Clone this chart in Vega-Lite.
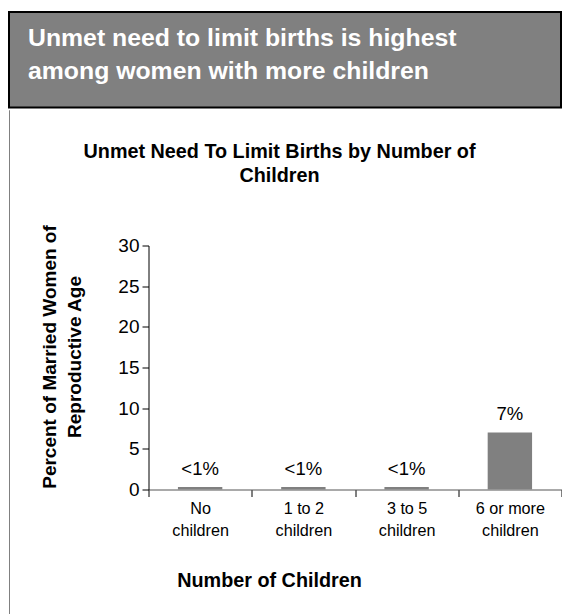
{
  "$schema": "https://vega.github.io/schema/vega-lite/v6.json",
  "background": "white",
  "padding": {"left": 8, "top": 11, "right": 0, "bottom": 0},
  "spacing": 0,
  "vconcat": [
    {
      "width": 552,
      "height": 95.5,
      "view": {"fill": "#808080", "stroke": "#000000", "strokeWidth": 2},
      "title": {
        "text": ["Unmet need to limit births is highest", "among women with more children"],
        "anchor": "start",
        "frame": "group",
        "baseline": "top",
        "color": "#ffffff",
        "fontSize": 24.8,
        "fontWeight": "bold",
        "lineHeight": 33,
        "dx": 19,
        "offset": -72
      },
      "data": {"values": []},
      "mark": "text"
    },
    {
      "spacing": 29.5,
      "hconcat": [
        {
          "width": 0.01,
          "height": 514,
          "view": {"stroke": "#808080", "strokeWidth": 1},
          "data": {"values": []},
          "mark": "text"
        },
        {
          "spacing": 30.5,
          "vconcat": [
            {
              "width": 1,
              "height": 0.01,
              "data": {"values": []},
              "mark": "text"
            },
            {
              "width": 413,
              "height": 244,
              "title": {
                "text": ["Unmet Need To Limit Births by Number of", "Children"],
                "baseline": "bottom",
                "fontSize": 19.8,
                "fontWeight": "bold",
                "lineHeight": 24,
                "color": "#000000",
                "dx": -75.5,
                "offset": 19
              },
              "data": {
                "values": [
                  {"group": "No children", "percent": 0.3, "label": "<1%"},
                  {"group": "1 to 2 children", "percent": 0.3, "label": "<1%"},
                  {"group": "3 to 5 children", "percent": 0.3, "label": "<1%"},
                  {"group": "6 or more children", "percent": 7, "label": "7%"}
                ]
              },
              "encoding": {
                "x": {
                  "field": "group",
                  "type": "nominal",
                  "sort": null,
                  "scale": {"paddingInner": 0, "paddingOuter": 0},
                  "axis": {
                    "title": "Number of Children",
                    "titleFontSize": 19.8,
                    "titleFontWeight": "bold",
                    "titleX": 120.5,
                    "titleY": 91,
                    "titleAlign": "center",
                    "titleBaseline": "middle",
                    "labelAngle": 0,
                    "labelFontSize": 16.2,
                    "labelLineHeight": 21.5,
                    "labelPadding": 4,
                    "labelExpr": "split(replace(datum.label, ' children', '|children'), '|')",
                    "tickBand": "extent",
                    "tickSize": 7,
                    "domainColor": "#555555",
                    "tickColor": "#000000"
                  }
                },
                "y": {
                  "field": "percent",
                  "type": "quantitative",
                  "scale": {"domain": [0, 30], "nice": false},
                  "axis": {
                    "values": [0, 5, 10, 15, 20, 25, 30],
                    "title": ["Percent of Married Women of", "Reproductive Age"],
                    "titleFontSize": 19,
                    "titleFontWeight": "bold",
                    "titleLineHeight": 25,
                    "titleAngle": -90,
                    "titleX": -99,
                    "titleY": 111,
                    "titleAlign": "center",
                    "titleBaseline": "middle",
                    "labelFontSize": 19,
                    "labelPadding": 3,
                    "tickSize": 6.5,
                    "domainColor": "#000000",
                    "tickColor": "#000000"
                  }
                }
              },
              "layer": [
                {
                  "mark": {"type": "bar", "color": "#808080", "width": {"band": 0.43}}
                },
                {
                  "mark": {"type": "text", "baseline": "alphabetic", "dy": -12.5, "fontSize": 18.5, "color": "#000000"},
                  "encoding": {"text": {"field": "label"}}
                }
              ]
            }
          ]
        }
      ]
    }
  ],
  "config": {
    "font": "Liberation Sans",
    "view": {"stroke": null},
    "axis": {"grid": false, "labelColor": "#000000", "titleColor": "#000000"}
  }
}
